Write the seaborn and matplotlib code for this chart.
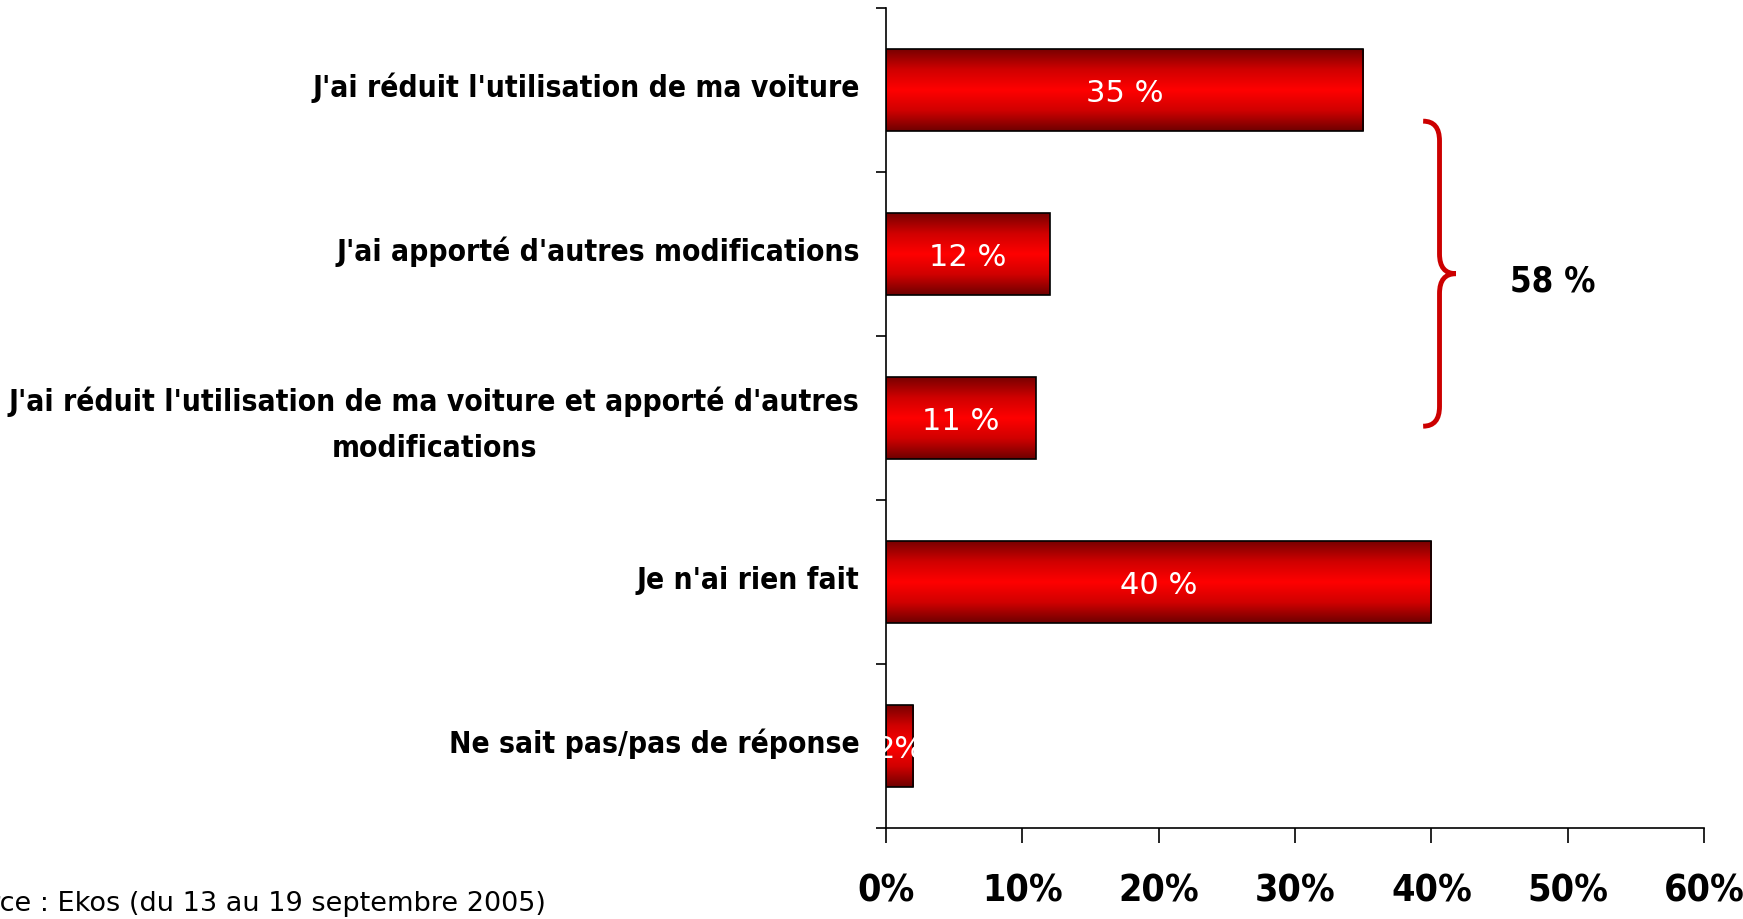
import numpy as np
import pandas as pd
import matplotlib
matplotlib.use('Agg')
import matplotlib.pyplot as plt
import seaborn as sns
from matplotlib import font_manager
from matplotlib.colors import LinearSegmentedColormap
from matplotlib.path import Path
from matplotlib.patches import PathPatch

categories = ["J'ai réduit l'utilisation de ma voiture",
              "J'ai apporté d'autres modifications",
              "J'ai réduit l'utilisation de ma voiture et apporté d'autres\nmodifications",
              "Je n'ai rien fait",
              "Ne sait pas/pas de réponse"]
values = [35, 12, 11, 40, 2]
bar_labels = ["35 %", "12 %", "11 %", "40 %", "2%"]
xticks = [0, 10, 20, 30, 40, 50, 60]
xtick_labels = ["0%", "10%", "20%", "30%", "40%", "50%", "60%"]
brace_text = "58 %"
source = "Source : Ekos (du 13 au 19 septembre 2005)"

sns.set_style('white')
plt.rcParams['font.family'] = ['DejaVu Sans']

# look for a narrow face, the reference uses a condensed sans
fp = font_manager.FontProperties(family='DejaVu Sans', stretch='condensed', weight='bold')
has_cond = 'Condensed' in font_manager.findfont(fp, fallback_to_default=True)
stretch = 'condensed' if has_cond else 'normal'
cat_size = 21.5 if has_cond else 18
tick_size = 27 if has_cond else 24

df = pd.DataFrame({'cat': categories, 'val': values})

fig = plt.figure(figsize=(17.43, 9.19), dpi=100)
ax = fig.add_axes([886 / 1743, 1 - 828 / 919, (1704 - 886) / 1743, 820 / 919])

sns.barplot(data=df, x='val', y='cat', orient='h', color='red', width=0.5,
            edgecolor='black', linewidth=1.2, ax=ax)

# vertical red gradient inside each bar
grad = LinearSegmentedColormap.from_list('g', ['#780000', '#d00000', '#ff0000', '#d00000', '#6e0000'])
g = np.linspace(0, 1, 256).reshape(-1, 1)
for p in ax.patches:
    x0, y0 = p.get_x(), p.get_y()
    w, h = p.get_width(), p.get_height()
    im = ax.imshow(g, cmap=grad, aspect='auto', extent=[x0, x0 + w, y0 + h, y0], zorder=2)
    im.set_clip_path(p)
    p.set_facecolor('none')
    p.set_zorder(3)

for p, lab in zip(ax.patches, bar_labels):
    ax.text(p.get_x() + p.get_width() / 2, p.get_y() + p.get_height() / 2 + 0.02, lab,
            ha='center', va='center', color='white', fontsize=22, zorder=5)

ax.set_xlim(0, 60)
ax.set_ylim(4.5, -0.5)
ax.set_xticks(xticks)
ax.set_xticklabels(xtick_labels, fontsize=tick_size, fontweight='bold', fontstretch=stretch, color='black')
# labels sit a little above the bar centre in the reference (major ticks are invisible)
ax.set_yticks(np.arange(len(categories)) - 0.03)
ax.set_yticklabels(categories, fontsize=cat_size, fontweight='bold', fontstretch=stretch,
                   multialignment='center', color='black', linespacing=1.75)
ax.set_yticks(np.arange(-0.5, 5, 1), minor=True)
ax.tick_params(axis='y', which='major', left=True, length=0, pad=19)
ax.tick_params(axis='y', which='minor', left=True, length=7, width=1.2, direction='out', color='black')
ax.tick_params(axis='x', bottom=True, length=11, width=1.2, direction='out', color='black', pad=22)
ax.set_xlabel('')
ax.set_ylabel('')
sns.despine(ax=ax)
for s in ['left', 'bottom']:
    ax.spines[s].set_color('black')
    ax.spines[s].set_linewidth(1.2)

# curly brace
bx, bw = 39.4, 2.4
top, bot = 0.19, 2.05
mid = (top + bot) / 2
c = 0.12
verts = [(bx, top), (bx + bw * 0.5, top), (bx + bw * 0.5, top + c), (bx + bw * 0.5, top + c),
         (bx + bw * 0.5, mid - c), (bx + bw * 0.5, mid), (bx + bw, mid),
         (bx + bw * 0.5, mid), (bx + bw * 0.5, mid + c),
         (bx + bw * 0.5, bot - c), (bx + bw * 0.5, bot - c),
         (bx + bw * 0.5, bot), (bx, bot)]
codes = [Path.MOVETO, Path.CURVE3, Path.CURVE3, Path.LINETO,
         Path.LINETO, Path.CURVE3, Path.CURVE3,
         Path.CURVE3, Path.CURVE3,
         Path.LINETO, Path.LINETO,
         Path.CURVE3, Path.CURVE3]
ax.add_patch(PathPatch(Path(verts, codes), fill=False, edgecolor='#cc0000', lw=3.5, clip_on=False))
ax.text(48.9, 1.17, brace_text, ha='center', va='center', fontsize=25, fontweight='bold',
        fontstretch=stretch, color='black')

fig.text(546 / 1743, 1 - 904 / 919, source, ha='right', va='center', fontsize=19.5, color='black')

fig.savefig('out.png', dpi=100, facecolor='white')
